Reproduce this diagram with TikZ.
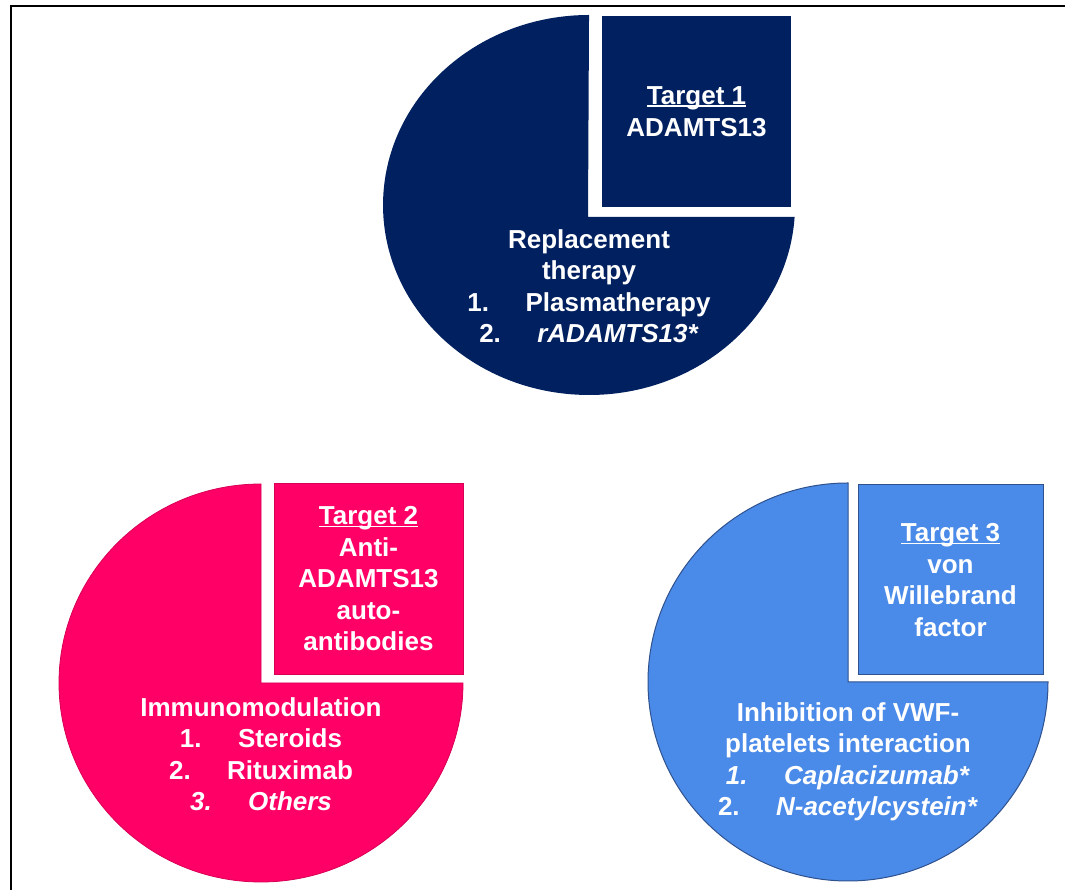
\documentclass[tikz,border=0pt]{standalone}
\usepackage{fontspec}
\setmainfont{Liberation Sans}
\definecolor{navyc}{HTML}{002060}
\definecolor{pinkc}{HTML}{FF0066}
\definecolor{pinkedge}{HTML}{D80055}
\definecolor{bluec}{HTML}{4A8AE8}
\definecolor{blueedge}{HTML}{2F528F}
\newcommand\tgul[1]{\setbox0\hbox{#1}\rlap{\rule[-2.5pt]{\wd0}{1.6pt}}\box0}
\begin{document}
\begin{tikzpicture}[x=1pt,y=1pt,
  lbl/.style={text=white, font=\bfseries\fontsize{26}{31.5}\selectfont, align=center, inner sep=0pt},
  frameline/.style={line width=2pt, black}]
\useasboundingbox (0,0) rectangle (1065,890);
\fill[white] (0,0) rectangle (1065,890);
\draw[frameline] (11,0) -- (11,884) -- (1065,884);

% Target 1 (navy)
\fill[navyc] (588,673) -- (794.6,673) arc[start angle=-3.62, end angle=-270, x radius=206, y radius=190] -- cycle;
\fill[navyc] (602,874) rectangle (791,683);
\node[lbl] (t1box) at (696.5,778.5) {\tgul{Target 1}\\ADAMTS13};
\node[lbl] (t1body) at (589,604) {Replacement\\therapy\\1.\hspace{1.4em}Plasmatherapy\\2.\hspace{1.4em}\textit{rADAMTS13*}};

% Target 2 (pink)
\filldraw[fill=pinkc, draw=pinkedge, line width=0.8pt] (261,207) -- ++(202,0) arc[start angle=0, end angle=-270, x radius=202, y radius=199] -- cycle;
\filldraw[fill=pinkc, draw=pinkedge, line width=0.8pt] (274,407) rectangle (463,216);
\node[lbl] (t2box) at (368.5,311) {\tgul{Target 2}\\Anti-\\ADAMTS13\\auto-\\antibodies};
\node[lbl] (t2body) at (261,136) {Immunomodulation\\1.\hspace{1.4em}Steroids\\2.\hspace{1.4em}Rituximab\\\textit{3.}\hspace{1.4em}\textit{Others}};

% Target 3 (blue)
\filldraw[fill=bluec, draw=blueedge, line width=1pt] (848,208) -- ++(200,0) arc[start angle=0, end angle=-270, x radius=200, y radius=199] -- cycle;
\filldraw[fill=bluec, draw=blueedge, line width=1pt] (858,405) rectangle (1043,215);
\node[lbl] (t3box) at (950.5,310) {\tgul{Target 3}\\von\\Willebrand\\factor};
\node[lbl] (t3body) at (848,128) {Inhibition of VWF-\\platelets interaction\\\textit{1.}\hspace{1.4em}\textit{Caplacizumab*}\\2.\hspace{1.4em}\textit{N-acetylcystein*}};
\end{tikzpicture}
\end{document}
